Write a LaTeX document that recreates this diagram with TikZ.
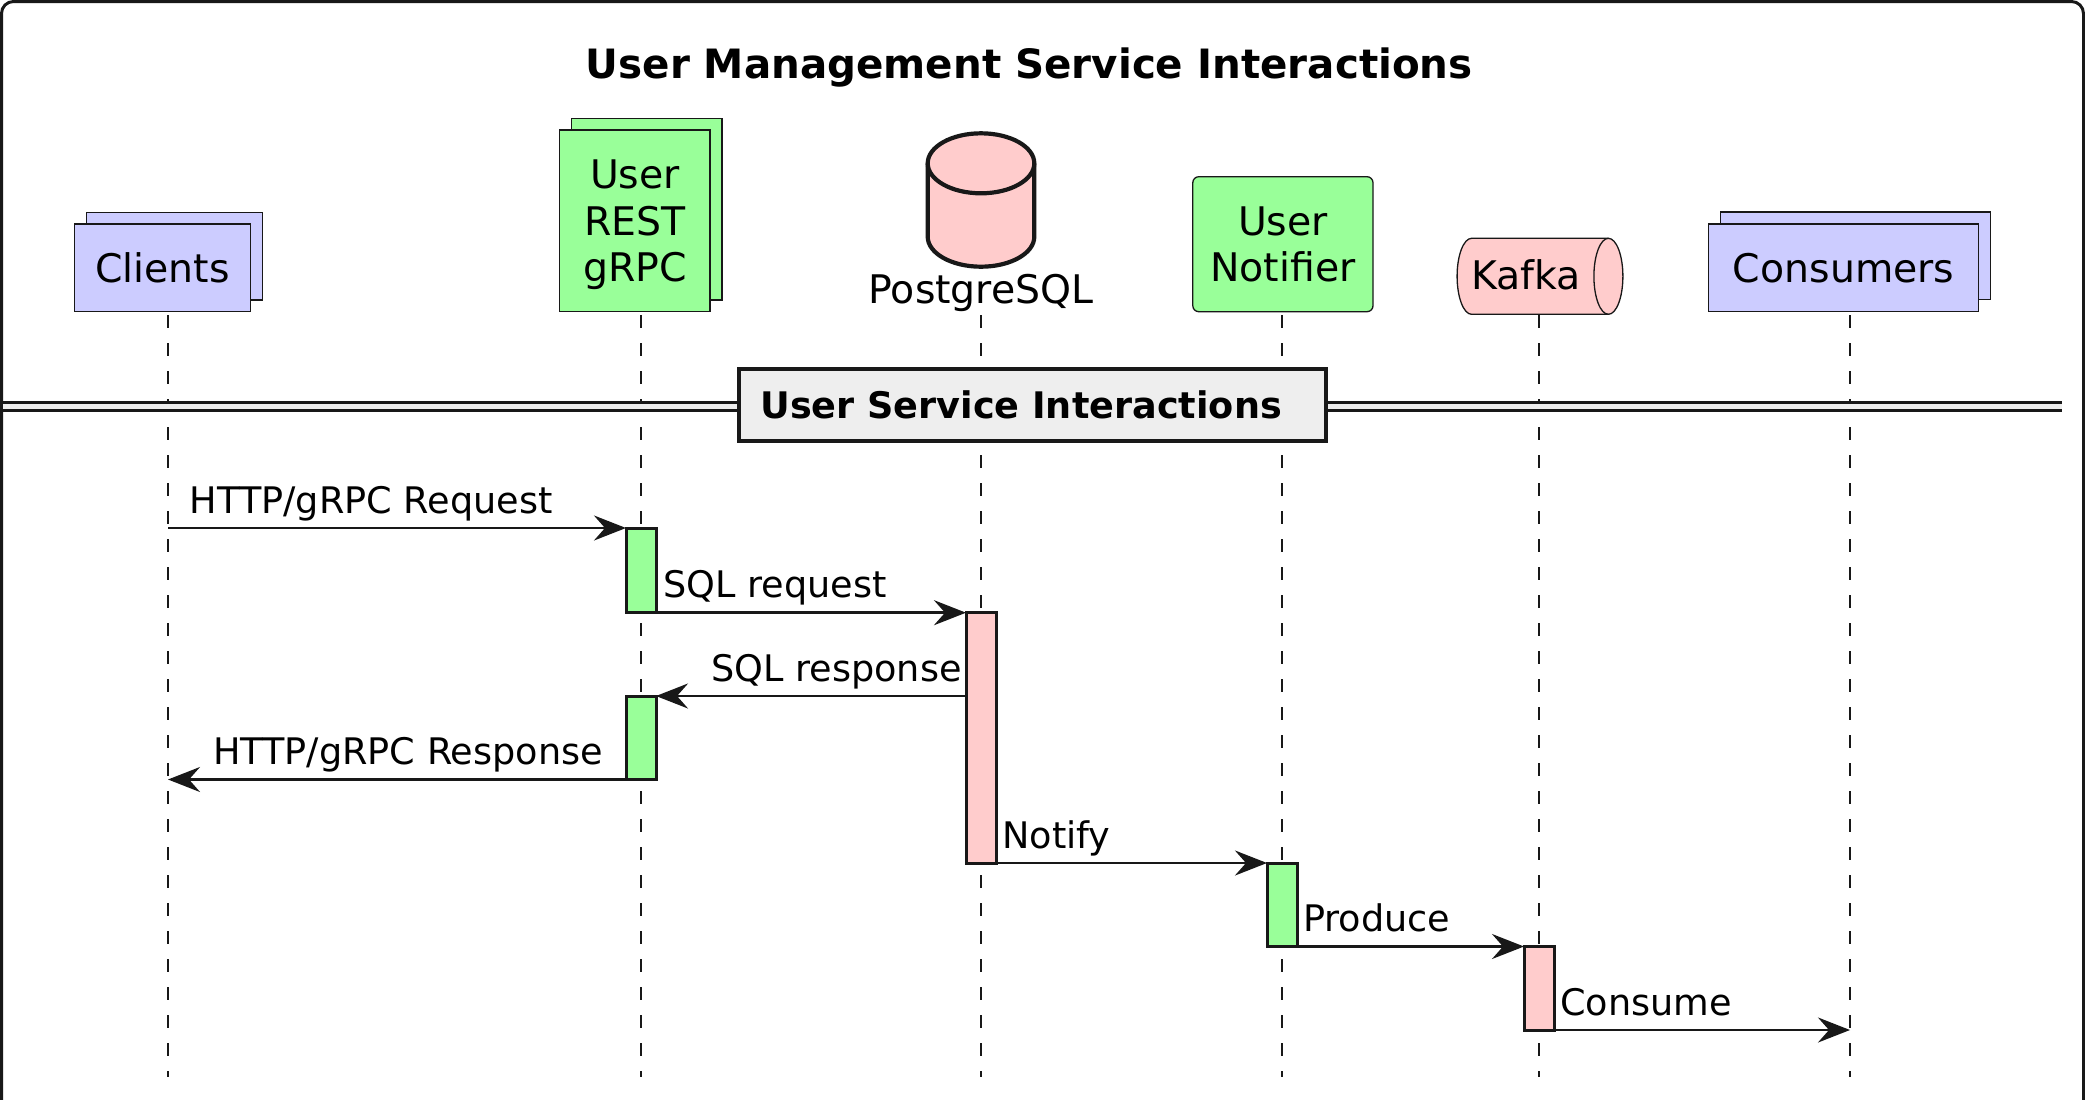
\documentclass[tikz,border=0pt]{standalone}
\usepackage{fontspec}
\setmainfont{DejaVu Sans}
\usetikzlibrary{arrows.meta}
\definecolor{lav}{HTML}{CCCCFF}
\definecolor{grn}{HTML}{99FF99}
\definecolor{pnk}{HTML}{FFCCCC}
\definecolor{secfill}{HTML}{EEEEEE}
\definecolor{ink}{HTML}{181818}
\begin{document}
\begin{tikzpicture}[x=0.5pt,y=-0.5pt,
  partfont/.style={font=\fontsize{19.7}{23.25}\selectfont},
  partbox/.style={draw=ink, line width=0.65pt, inner sep=0pt, outer sep=0pt, partfont, align=center},
  actbox/.style={draw=ink, line width=1.5pt, minimum width=15pt, inner sep=0pt, outer sep=0pt},
  lifeline/.style={draw=ink, line width=0.75pt, dash pattern=on 6.5pt off 7.5pt},
  msg/.style={draw=ink, line width=1.35pt, -{Stealth[length=16pt,width=12.5pt,inset=5.5pt]}},
  msglabel/.style={font=\fontsize{18.3}{22}\selectfont, inner sep=0pt},
]
\useasboundingbox (0,0) rectangle (2085,1099);
% outer frame
\draw[ink, line width=1.5pt, rounded corners=6pt] (1.5,1.5) rectangle (2083.5,1140);

% title
\node[font=\bfseries\fontsize{20.2}{24}\selectfont, anchor=base, inner sep=0pt] (title) at (1029.3,78.3) {User Management Service Interactions};

% lifeline coordinates
\coordinate (L1) at (168,315);
\coordinate (L2) at (641,315);
\coordinate (L3) at (981,315);
\coordinate (L4) at (1282,315);
\coordinate (L5) at (1539,315);
\coordinate (L6) at (1850,315);
\coordinate (E1) at (168,1077);
\coordinate (E2) at (641,1077);
\coordinate (E3) at (981,1077);
\coordinate (E4) at (1282,1077);
\coordinate (E5) at (1539,1077);
\coordinate (E6) at (1850,1077);
\foreach \i in {1,...,6} {\draw[lifeline] (L\i) -- (E\i);}

% participants
\node[partbox, fill=lav, minimum width=88pt, minimum height=43.85pt] (clientsB) at (174.4,256) {};
\node[partbox, fill=lav, minimum width=88pt, minimum height=43.85pt] (clients) at (162.4,267.85) {Clients};

\node[partbox, fill=grn, minimum width=75.1pt, minimum height=90.85pt] (restB) at (646.9,209) {};
\node[partbox, fill=grn, minimum width=75.1pt, minimum height=90.85pt, text depth=0pt] (rest) at (634.9,220.85) {User\\REST\\gRPC};

\path[draw=ink, fill=pnk, line width=2.1pt] (927.7,163.3) arc[start angle=180, end angle=360, x radius=53.3, y radius=30] -- (1034.3,236.7) arc[start angle=0, end angle=180, x radius=53.3, y radius=30] -- cycle;
\draw[ink, line width=2.1pt] (927.7,163.3) arc[start angle=180, end angle=0, x radius=53.3, y radius=30];
\node[partfont, anchor=base, inner sep=0pt] (pg) at (981,303) {PostgreSQL};

\node[partbox, fill=grn, rounded corners=3pt, minimum width=90.1pt, minimum height=67.5pt] (notif) at (1282.9,244.2) {User\\Notifier};

\path[draw=ink, fill=pnk, line width=0.65pt] (1471.6,238.3) -- (1608.4,238.3) arc[start angle=-90, end angle=90, x radius=14.5, y radius=38] -- (1471.6,314.3) arc[start angle=90, end angle=270, x radius=14.5, y radius=38] -- cycle;
\draw[ink, line width=0.65pt] (1608.4,238.3) arc[start angle=-90, end angle=-270, x radius=14.5, y radius=38];
\node[partfont, anchor=base, inner sep=0pt] (kafka) at (1525.8,289) {Kafka};

\node[partbox, fill=lav, minimum width=134.95pt, minimum height=43.85pt] (consB) at (1855.65,255.85) {};
\node[partbox, fill=lav, minimum width=134.95pt, minimum height=43.85pt] (cons) at (1843.65,267.85) {Consumers};

% divider
\fill[secfill] (3,402.3) rectangle (2062,410.8);
\draw[ink, line width=1.35pt] (3,402.3) -- (2062,402.3);
\draw[ink, line width=1.35pt] (3,410.8) -- (2062,410.8);
\node[draw=ink, line width=2pt, fill=secfill, minimum width=293.35pt, minimum height=35.7pt, inner sep=0pt] (sec) at (1032.65,405) {};
\node[font=\bfseries\fontsize{18.3}{22}\selectfont, anchor=base west, inner sep=0pt] (sectext) at (760,418.3) {User Service Interactions};

% activations
\node[actbox, fill=grn, minimum height=42.35pt] (a1) at (641,570.35) {};
\node[actbox, fill=pnk, minimum height=125.15pt] (ap) at (981,737.85) {};
\node[actbox, fill=grn, minimum height=41.75pt] (a2) at (641,737.75) {};
\node[actbox, fill=grn, minimum height=41.75pt] (an) at (1282,904.75) {};
\node[actbox, fill=pnk, minimum height=41.75pt] (ak) at (1539,988.25) {};

% messages
\draw[msg] (L1 |- a1.north west) -- (a1.north west);
\draw[msg] (a1.south east) -- (ap.north west);
\draw[msg] (ap.west |- a2.north east) -- (a2.north east);
\draw[msg] (a2.south west) -- (L1 |- a2.south west);
\draw[msg] (ap.south east) -- (an.north west);
\draw[msg] (an.south east) -- (ak.north west);
\draw[msg] (ak.south east) -- (L6 |- ak.south east);

% labels
\node[msglabel, anchor=base west] (t1) at (189.4,513) {HTTP/gRPC Request};
\node[msglabel, anchor=base west] (t2) at (663,597.7) {SQL request};
\node[msglabel, anchor=base east] (t3) at (962,681) {SQL response};
\node[msglabel, anchor=base east] (t4) at (603.3,764.5) {HTTP/gRPC Response};
\node[msglabel, anchor=base west] (t5) at (1002,848) {Notify};
\node[msglabel, anchor=base west] (t6) at (1302.9,931.5) {Produce};
\node[msglabel, anchor=base west] (t7) at (1559.9,1015) {Consume};
\end{tikzpicture}
\end{document}
